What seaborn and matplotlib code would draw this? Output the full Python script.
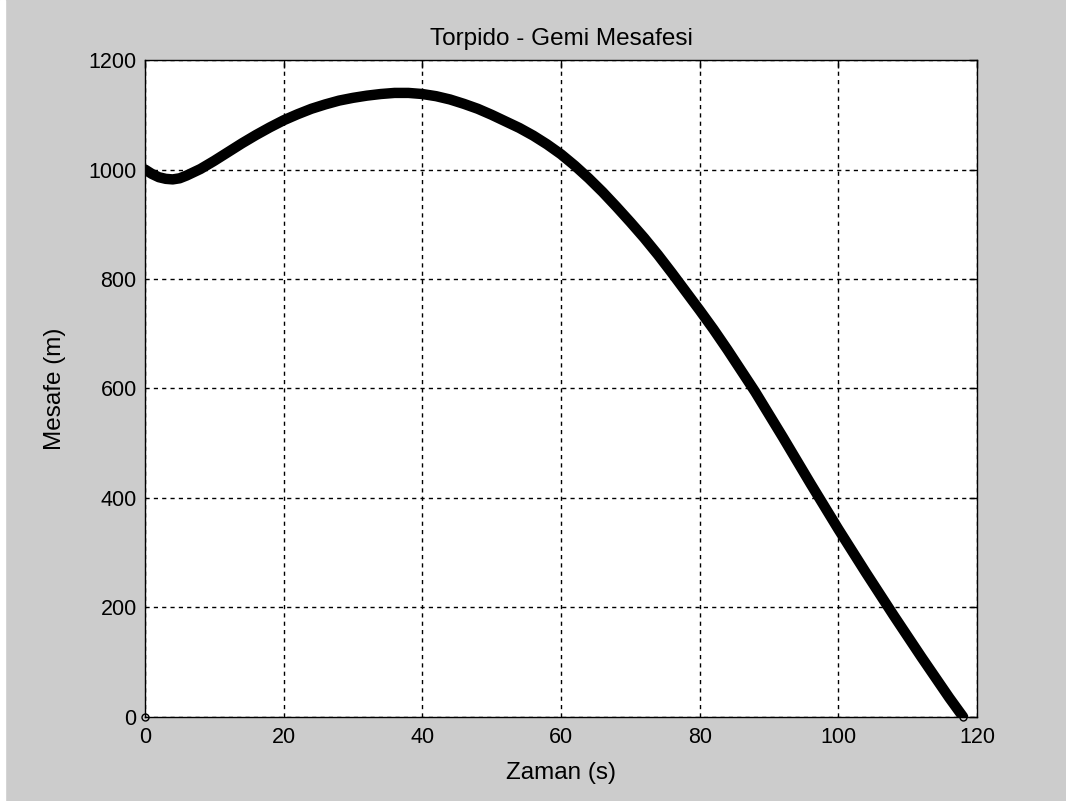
import pandas as pd
import matplotlib
matplotlib.use("Agg")
import matplotlib.pyplot as plt
from matplotlib.patches import Rectangle
import seaborn as sns

# time (s) and torpedo-ship distance (m)
zaman = [0, 1, 2, 3, 4, 5, 6, 8, 10, 12, 14, 16, 18, 20, 22, 24, 26, 28,
         30, 32, 34, 36, 38, 40, 42, 44, 46, 48, 50, 52, 54, 56, 58, 60,
         62, 64, 66, 68, 70, 72, 74, 76, 78, 80, 82, 84, 88, 92, 96, 100,
         104, 108, 112, 116, 118]
mesafe = [1000, 992, 986, 983, 982, 984, 989, 1001, 1016, 1032, 1048,
          1063, 1077, 1090, 1101, 1111, 1119, 1126, 1131, 1135, 1138, 1140,
          1140, 1138, 1134, 1128, 1120, 1111, 1100, 1088, 1076, 1062, 1046,
          1028, 1007, 984, 959, 932, 904, 875, 844, 811, 777, 743, 708, 671,
          594, 511, 426, 343, 263, 185, 109, 35, 0]
# lone sample sitting at the origin
zaman0 = [0]
mesafe0 = [0]

xticks = [0, 20, 40, 60, 80, 100, 120]
yticks = [0, 200, 400, 600, 800, 1000, 1200]

sns.set_style("white")
plt.rcParams["font.family"] = ["Liberation Sans", "DejaVu Sans"]
plt.rcParams["text.color"] = "black"
plt.rcParams["axes.labelcolor"] = "black"

df = pd.DataFrame({"Zaman": zaman, "Mesafe": mesafe})

fig = plt.figure(figsize=(10.66, 8.01), dpi=100, facecolor="#cccccc")
# thin white strip on the left edge of the window
fig.patches.append(Rectangle((0, 0), 5 / 1066, 1, transform=fig.transFigure,
                             color="white", zorder=-1))
ax = fig.add_axes([0.136, 0.105, 0.7805, 0.82])
ax.set_facecolor("white")

sns.lineplot(data=df, x="Zaman", y="Mesafe", ax=ax, color="black",
             linewidth=7.5, sort=False, estimator=None,
             solid_capstyle="round", solid_joinstyle="round")
ax.plot(zaman0, mesafe0, "o", mfc="none", mec="black", ms=5, mew=1,
        clip_on=False)
ax.plot(zaman[-1:], mesafe[-1:], "o", mfc="none", mec="black", ms=5,
        mew=1, clip_on=False)

ax.set_xlim(0, 120)
ax.set_ylim(0, 1200)
ax.set_xticks(xticks)
ax.set_yticks(yticks)
ax.tick_params(direction="in", top=True, right=True, length=6, width=1,
               labelsize=15.5, colors="black")
ax.tick_params(axis="x", pad=7)
ax.tick_params(axis="y", pad=6)
ax.grid(True, color="black", linestyle=(0, (3, 3)), linewidth=1)
for s in ax.spines.values():
    s.set_visible(True)
    s.set_color("black")
    s.set_linewidth(1)

ax.set_title("Torpido - Gemi Mesafesi", fontsize=17.5, pad=11)
ax.set_xlabel("Zaman (s)", fontsize=17.5, labelpad=10)
ax.set_ylabel("Mesafe (m)", fontsize=17.5, labelpad=16)

fig.savefig("out.png", dpi=100, facecolor=fig.get_facecolor())
